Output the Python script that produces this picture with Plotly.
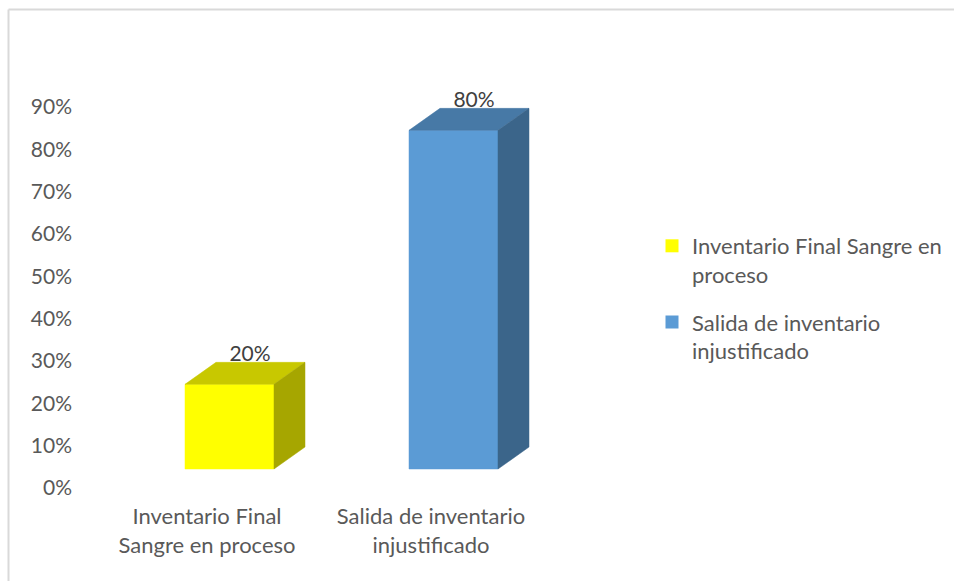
import plotly.graph_objects as go

# Chart data
categories = ["Inventario Final<br>Sangre en proceso", "Salida de inventario<br>injustificado"]
legend_names = ["Inventario Final Sangre en<br>proceso", "Salida de inventario<br>injustificado"]
values = [0.20, 0.80]
value_labels = ["20%", "80%"]
tick_values = [0.0, 0.1, 0.2, 0.3, 0.4, 0.5, 0.6, 0.7, 0.8, 0.9]

# Colours: front, top, side faces of each column
front_colors = ["#FFFF00", "#5B9BD5"]
top_colors = ["#C8C800", "#4779A6"]
side_colors = ["#A6A600", "#3B658A"]

W, H = 954, 581
PX_PER_UNIT_Y = 423.3          # pixels per 100 %
PX_PER_CAT = 224.0             # pixels between category centres
CAT0_PX = 207.0                # pixel x of first category centre
ZERO_TICK_PX = 488.0           # pixel y of the 0% tick label
ZERO_BAR_PX = 469.0            # pixel y of the column front base

span_y = H / PX_PER_UNIT_Y
y_range_ticks = [-(H - ZERO_TICK_PX) / PX_PER_UNIT_Y, -(H - ZERO_TICK_PX) / PX_PER_UNIT_Y + span_y]
y_range_bars = [-(H - ZERO_BAR_PX) / PX_PER_UNIT_Y, -(H - ZERO_BAR_PX) / PX_PER_UNIT_Y + span_y]
x_range = [-CAT0_PX / PX_PER_CAT, (W - CAT0_PX) / PX_PER_CAT]

# 3-D column geometry (category units / value units)
left_off = -22 / PX_PER_CAT
right_off = 67 / PX_PER_CAT
depth_x = 31 / PX_PER_CAT
depth_y = 22 / PX_PER_UNIT_Y

fig = go.Figure()

for i, v in enumerate(values):
    x0, x1 = i + left_off, i + right_off
    faces = [
        ([x0, x1, x1, x0, x0], [0, 0, v, v, 0], front_colors[i]),
        ([x0, x1, x1 + depth_x, x0 + depth_x, x0], [v, v, v + depth_y, v + depth_y, v], top_colors[i]),
        ([x1, x1 + depth_x, x1 + depth_x, x1, x1], [0, depth_y, v + depth_y, v, 0], side_colors[i]),
    ]
    for xs, ys, col in faces:
        fig.add_trace(go.Scatter(
            x=xs, y=ys, mode="lines", fill="toself", fillcolor=col,
            line=dict(color=col, width=0.5), yaxis="y2",
            showlegend=False, hoverinfo="skip"))

# Value labels above the columns
fig.add_trace(go.Scatter(
    x=[i + 43 / PX_PER_CAT for i in range(len(values))],
    y=[v + 0.068 for v in values],
    mode="text", text=value_labels, yaxis="y2",
    textfont=dict(family="Lato", size=21, color="#404040"),
    showlegend=False, hoverinfo="skip"))

# Legend entries
for i, name in enumerate(legend_names):
    fig.add_trace(go.Scatter(
        x=[None], y=[None], mode="markers", name=name, legendgroup=f"g{i}",
        marker=dict(symbol="square", size=13, color=front_colors[i])))

fig.update_layout(
    width=W, height=H,
    margin=dict(l=0, r=0, t=0, b=0),
    paper_bgcolor="white", plot_bgcolor="white",
    font=dict(family="Lato", size=22, color="#595959"),
    xaxis=dict(range=x_range, tickvals=list(range(len(categories))), ticktext=categories,
               showgrid=False, zeroline=False, showline=False, ticks="",
               tickfont=dict(size=22),
               anchor="free", position=(H - 501) / H, domain=[0, 1]),
    yaxis=dict(range=y_range_ticks, tickvals=tick_values, tickformat=".0%",
               showgrid=False, zeroline=False, showline=False, ticks="",
               tickfont=dict(size=21),
               anchor="free", position=72 / W, domain=[0, 1]),
    yaxis2=dict(range=y_range_bars, overlaying="y", visible=False, showgrid=False,
                zeroline=False),
    legend=dict(x=652 / W, y=(H - 225) / H, xanchor="left", yanchor="top",
                valign="top", tracegroupgap=16, bgcolor="rgba(0,0,0,0)",
                font=dict(family="Lato", size=22, color="#595959")),
    shapes=[
        dict(type="line", xref="paper", yref="paper", x0=8.5 / W, x1=1, y0=(H - 9.5) / H, y1=(H - 9.5) / H,
             line=dict(color="#D9D9D9", width=2)),
        dict(type="line", xref="paper", yref="paper", x0=8.5 / W, x1=8.5 / W, y0=0, y1=(H - 9.5) / H,
             line=dict(color="#D9D9D9", width=2)),
    ],
)

fig.write_html("out.html")
